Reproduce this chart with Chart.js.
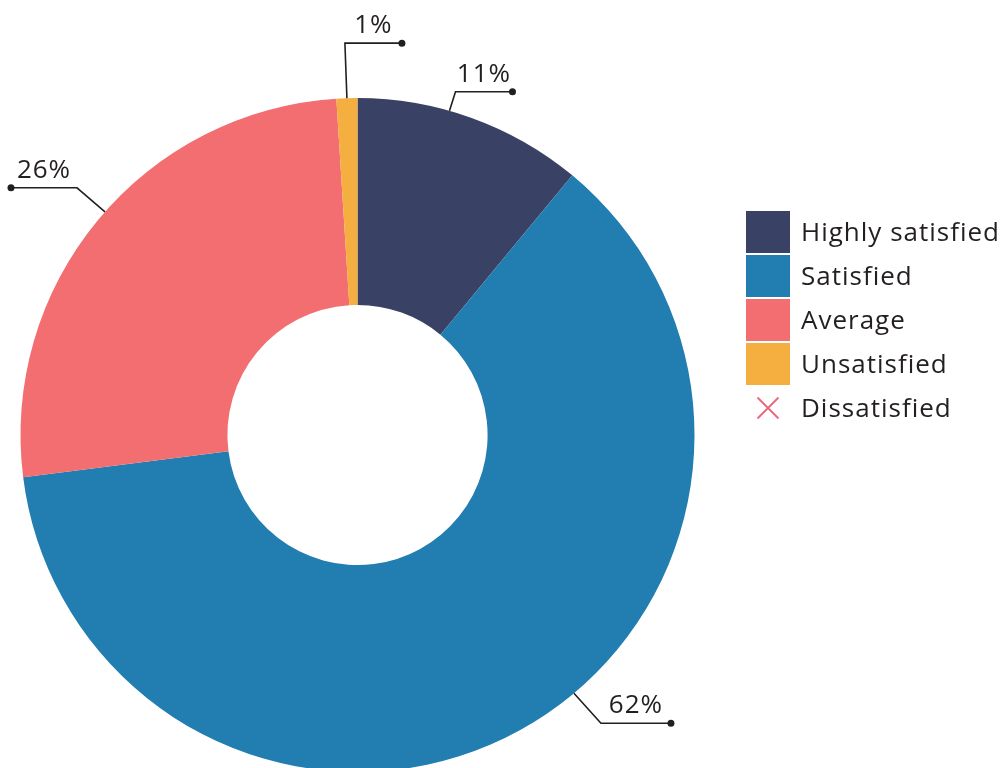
<!DOCTYPE html>
<html><head><meta charset="utf-8">
<script src="https://cdn.jsdelivr.net/npm/chart.js@4/dist/chart.umd.min.js"></script>
<style>
html,body{margin:0;padding:0;overflow:hidden;background:#fff;width:1004px;height:768px}
#wrap{position:absolute;left:0;top:0;width:1004px;height:780px}
</style>
</head><body><div id="wrap"><canvas id="c"></canvas></div>
<script>
const categories = ['Highly satisfied', 'Satisfied', 'Average', 'Unsatisfied', 'Dissatisfied'];
const values = [11, 62, 26, 1, 0];
const valueLabels = ['11%', '62%', '26%', '1%', ''];
const colors = ['#394264', '#227db0', '#f26e71', '#f5ae40', '#e8677f'];

const FONT = '"Open Sans", "Noto Sans", sans-serif';
const TEXT = '#231f20';

// leader-line styling per slice: where on the slice the line starts, elbow offset, horizontal run
const leaderStyle = [
  {frac: 0.40, ex: 6, ey: -19, run: 57},
  {frac: 0.45, ex: 27, ey: 30, run: 70},
  {frac: 0.52, ex: -28, ey: -24, run: -66},
  {frac: 0.50, ex: -2, ey: -55, run: 57},
  null
];

function setFont(ctx) {
  ctx.font = '26px ' + FONT;
  try { ctx.letterSpacing = '1px'; } catch (e) {}
}

const leaderPlugin = {
  id: 'leaders',
  afterDatasetsDraw(chart) {
    const ctx = chart.ctx;
    const meta = chart.getDatasetMeta(0);
    meta.data.forEach((arc, i) => {
      const st = leaderStyle[i];
      if (!st || !values[i]) return;
      const p = arc.getProps(['x', 'y', 'startAngle', 'endAngle', 'outerRadius'], true);
      const a = p.startAngle + st.frac * (p.endAngle - p.startAngle);
      const ax = p.x + p.outerRadius * Math.cos(a);
      const ay = p.y + p.outerRadius * Math.sin(a);
      const exx = ax + st.ex, eyy = ay + st.ey;
      const endx = exx + st.run;
      ctx.save();
      ctx.strokeStyle = TEXT;
      ctx.lineWidth = 1.6;
      ctx.beginPath();
      ctx.moveTo(ax, ay);
      ctx.lineTo(exx, eyy);
      ctx.lineTo(endx, eyy);
      ctx.stroke();
      ctx.fillStyle = TEXT;
      ctx.beginPath();
      ctx.arc(endx, eyy, 3.5, 0, Math.PI * 2);
      ctx.fill();
      setFont(ctx);
      ctx.textAlign = 'center';
      ctx.textBaseline = 'alphabetic';
      ctx.fillText(valueLabels[i], (exx + endx) / 2, eyy - 10);
      ctx.restore();
    });
  }
};

const legendPlugin = {
  id: 'customLegend',
  afterDraw(chart) {
    const ctx = chart.ctx;
    const left = 746, top = 211, bw = 44, bh = 42, step = 44;
    ctx.save();
    categories.forEach((name, i) => {
      const y = top + i * step;
      const cy = y + bh / 2;
      if (i < 4) {
        ctx.fillStyle = colors[i];
        ctx.fillRect(left, y, bw, bh);
      } else {
        ctx.strokeStyle = colors[i];
        ctx.lineWidth = 1.8;
        const s = 10.5, cx = left + bw / 2;
        ctx.beginPath();
        ctx.moveTo(cx - s, cy - s); ctx.lineTo(cx + s, cy + s);
        ctx.moveTo(cx + s, cy - s); ctx.lineTo(cx - s, cy + s);
        ctx.stroke();
      }
      ctx.fillStyle = TEXT;
      setFont(ctx);
      ctx.textAlign = 'left';
      ctx.textBaseline = 'middle';
      ctx.fillText(name, 801, cy + 2);
    });
    ctx.restore();
  }
};

new Chart(document.getElementById('c'), {
  type: 'doughnut',
  data: {
    labels: categories,
    datasets: [{
      data: values,
      backgroundColor: colors,
      borderWidth: 0
    }]
  },
  options: {
    responsive: true,
    maintainAspectRatio: false,
    animation: false,
    cutout: '38.6%',
    layout: {padding: {top: 98, bottom: 8, left: 20, right: 309}},
    plugins: {legend: {display: false}, tooltip: {enabled: false}}
  },
  plugins: [leaderPlugin, legendPlugin]
});
</script>
</body></html>
